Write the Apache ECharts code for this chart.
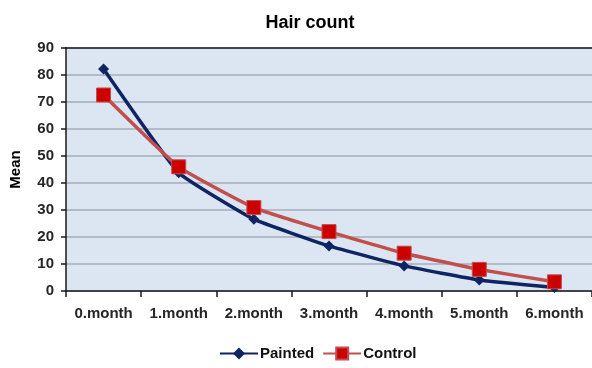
<!DOCTYPE html>
<html>
<head>
<meta charset="utf-8">
<style>
  html, body { margin: 0; padding: 0; background: #ffffff; }
  #chart { width: 592px; height: 368px; }
</style>
<script src="https://cdn.jsdelivr.net/npm/echarts@6/dist/echarts.min.js"></script>
</head>
<body>
<div id="chart"></div>
<script>
// Mean hair count per month for the two groups
const months = ['0.month', '1.month', '2.month', '3.month', '4.month', '5.month', '6.month'];
const painted = [82.2, 43.8, 26.6, 16.7, 9.3, 4.1, 1.3];
const control = [72.6, 46.0, 30.9, 22.0, 14.0, 8.0, 3.4];
const yTicks = { min: 0, max: 90, interval: 10 };

const FONT = '"Liberation Sans", Arial, sans-serif';
const chart = echarts.init(document.getElementById('chart'), null, { renderer: 'canvas' });

chart.setOption({
  backgroundColor: '#ffffff',
  animation: false,
  title: {
    text: 'Hair count',
    left: 305,
    textAlign: 'center',
    top: 9,
    textStyle: { fontFamily: FONT, fontSize: 18, fontWeight: 'bold', color: '#000000' }
  },
  legend: {
    bottom: 2,
    left: 214,
    itemWidth: 38,
    itemHeight: 15,
    itemGap: 8,
    textStyle: { fontFamily: FONT, fontSize: 15, fontWeight: 'bold', color: '#111111', padding: [0, 0, 0, -3] },
    data: ['Painted', 'Control']
  },
  grid: {
    left: 65,
    right: -4,
    top: 48,
    bottom: 77,
    show: true,
    backgroundColor: '#DCE6F2',
    borderWidth: 0
  },
  xAxis: {
    type: 'category',
    data: months,
    boundaryGap: true,
    axisLine: { show: true, lineStyle: { color: '#1a1a1a', width: 1.5 } },
    axisTick: { show: true, length: 6, lineStyle: { color: '#1a1a1a', width: 1.5 } },
    axisLabel: { interval: 0, fontFamily: FONT, fontSize: 15, fontWeight: 'bold', color: '#262626', margin: 15 },
    splitLine: { show: false }
  },
  yAxis: {
    type: 'value',
    min: yTicks.min,
    max: yTicks.max,
    interval: yTicks.interval,
    name: 'Mean',
    nameLocation: 'middle',
    nameGap: 43,
    nameRotate: 90,
    nameTextStyle: { fontFamily: FONT, fontSize: 15, fontWeight: 'bold', color: '#000000' },
    axisLine: { show: true, lineStyle: { color: '#1a1a1a', width: 1.5 } },
    axisTick: { show: true, length: 5, lineStyle: { color: '#1a1a1a', width: 1.5 } },
    axisLabel: { fontFamily: FONT, fontSize: 15, fontWeight: 'bold', color: '#262626', margin: 12 },
    splitLine: {
      show: true,
      lineStyle: { color: '#A6ADB8', width: 1.5 }
    }
  },
  series: [
    {
      name: 'Painted',
      type: 'line',
      data: painted,
      smooth: 0.12,
      symbol: 'diamond',
      symbolSize: 11,
      lineStyle: { color: '#0F2462', width: 3.5 },
      itemStyle: { color: '#0F2462' },
      z: 3
    },
    {
      name: 'Control',
      type: 'line',
      data: control,
      smooth: 0.12,
      symbol: 'rect',
      symbolSize: 14,
      lineStyle: { color: '#C0504D', width: 3.5 },
      itemStyle: { color: '#CC0000', borderColor: '#C0504D', borderWidth: 1 },
      z: 4
    }
  ]
});

// Top border of the plot area (at the 90 line)
chart.setOption({
  graphic: [{
    type: 'line',
    shape: { x1: 65, y1: 48, x2: 596, y2: 48 },
    style: { stroke: '#1a1a1a', lineWidth: 1.5 },
    z: 10
  }]
});
</script>
</body>
</html>
